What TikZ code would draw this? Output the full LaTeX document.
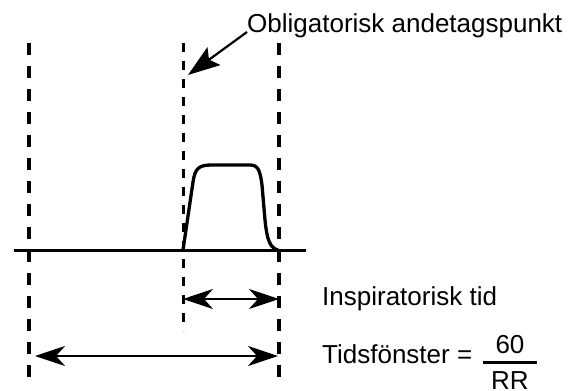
\documentclass[tikz,border=0pt]{standalone}
\usepackage{fontspec}
\setmainfont{Liberation Sans}
\usetikzlibrary{arrows.meta,positioning}

\begin{document}
\begin{tikzpicture}[
    x=1pt, y=-1pt,
    txt/.style={inner sep=0pt, anchor=base west, font=\fontsize{26pt}{31pt}\selectfont},
    window/.style={dash pattern=on 12pt off 11pt, line width=3.4pt},
    marker/.style={dash pattern=on 9pt off 9pt, line width=3pt},
    dimarrow/.style={<->, >={Stealth[length=30pt,width=20pt,inset=9pt]}, line width=2.2pt},
    pointer/.style={-{Stealth[length=32pt,width=22pt,inset=6pt]}, line width=2.2pt}
]
\useasboundingbox (0,0) rectangle (579,391);

% Window borders
\coordinate (lefttop) at (29,43);
\coordinate (leftbot) at (29,378);
\coordinate (midtop) at (183,43);
\coordinate (midbot) at (183,331);
\coordinate (righttop) at (279,43);
\coordinate (rightbot) at (279,378);
\draw[window] (lefttop) -- (leftbot);
\draw[marker] (midtop) -- (midbot);
\draw[window] (righttop) -- (rightbot);

% Zero line and breath
\coordinate (axisL) at (14,250.5);
\coordinate (axisR) at (306,250.5);
\draw[line width=3pt] (axisL) -- (axisR);
\draw[line width=3.3pt, line join=round]
    (183,250) -- (193,182) .. controls (195,168) and (199,165) .. (212,165)
    -- (250,165) .. controls (258,165) and (260,170) .. (262,185)
    -- (265,220) .. controls (267,240) and (270,248) .. (278,250);

% Labels
\node[txt] (obl) at (247,32) {Obligatorisk andetagspunkt};
\node[txt] (insp) at (322,305) {Inspiratorisk tid};
\node[txt] (win) at (322,363) {Tidsfönster =};
\node[txt, anchor=base] (num) at (510,353) {60};
\node[txt, anchor=base] (den) at (510,389) {RR};
\coordinate (barL) at (483,362);
\coordinate (barR) at (537,362);
\draw[line width=3pt] (barL) -- (barR);

% Arrows
\coordinate (breath) at (188,75);
\draw[pointer] (obl.base west) -- (breath);
\coordinate (inspL) at (183,299);
\coordinate (inspR) at (279,299);
\draw[dimarrow] (inspL) -- (inspR);
\coordinate (winL) at (35,356);
\coordinate (winR) at (278,356);
\draw[dimarrow] (winL) -- (winR);

\end{tikzpicture}
\end{document}
